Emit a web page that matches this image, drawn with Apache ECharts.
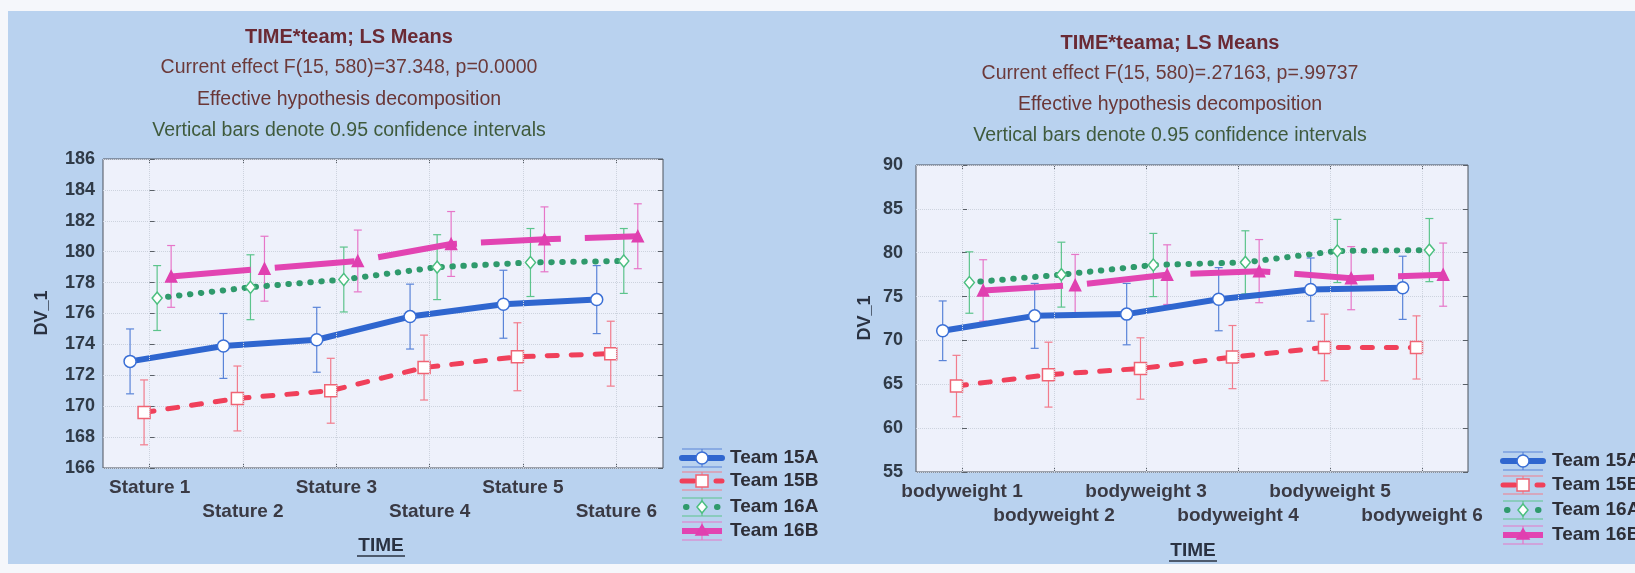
<!DOCTYPE html>
<html>
<head>
<meta charset="utf-8">
<script src="https://cdn.jsdelivr.net/npm/echarts@6/dist/echarts.min.js"></script>
<style>
  html, body { margin: 0; padding: 0; background: #f5f7fb; }
  #chart { width: 1635px; height: 573px; }
</style>
</head>
<body>
<div id="chart"></div>
<script>
// ---- data ----------------------------------------------------------------
const statureLabels = ['Stature 1', 'Stature 2', 'Stature 3', 'Stature 4', 'Stature 5', 'Stature 6'];
const weightLabels = ['bodyweight 1', 'bodyweight 2', 'bodyweight 3', 'bodyweight 4', 'bodyweight 5', 'bodyweight 6'];
const teamNames = ['Team 15A', 'Team 15B', 'Team 16A', 'Team 16B'];

// LS means of stature (cm) per team
const stature15A = [172.9, 173.9, 174.3, 175.8, 176.6, 176.9];
const stature15B = [169.6, 170.5, 171.0, 172.5, 173.2, 173.4];
const stature16A = [177.0, 177.7, 178.2, 179.0, 179.3, 179.4];
const stature16B = [178.4, 178.9, 179.4, 180.5, 180.8, 181.0];
// half widths of the 0.95 confidence intervals
const statureCI15A = [2.1, 2.1, 2.1, 2.1, 2.2, 2.2];
const statureCI15B = [2.1, 2.1, 2.1, 2.1, 2.2, 2.1];
const statureCI16A = [2.1, 2.1, 2.1, 2.1, 2.2, 2.1];
const statureCI16B = [2.0, 2.1, 2.0, 2.1, 2.1, 2.1];

// LS means of body weight (kg) per team
const weight15A = [71.1, 72.8, 73.0, 74.7, 75.8, 76.0];
const weight15B = [64.8, 66.1, 66.8, 68.1, 69.2, 69.2];
const weight16A = [76.6, 77.5, 78.6, 78.9, 80.2, 80.3];
const weight16B = [75.7, 76.3, 77.5, 77.9, 77.1, 77.5];
const weightCI15A = [3.4, 3.7, 3.5, 3.6, 3.6, 3.6];
const weightCI15B = [3.5, 3.7, 3.5, 3.6, 3.8, 3.6];
const weightCI16A = [3.5, 3.7, 3.6, 3.6, 3.6, 3.6];
const weightCI16B = [3.5, 3.5, 3.4, 3.6, 3.6, 3.6];

// value axis scales
const statureAxis = { min: 166, max: 186, interval: 2 };
const weightAxis = { min: 55, max: 90, interval: 5 };

// ---- styles --------------------------------------------------------------
const FONT = "'Liberation Sans', Arial, sans-serif";
const teamStyles = [
  { shift: -0.21, line: '#2f66cf', bar: '#5a84d8', mark: '#3a6fd6', symbol: 'circle', size: 12, fill: '#ffffff', dash: 'solid', width: 6, cap: 'round' },
  { shift: -0.06, line: '#f0405a', bar: '#f27c8c', mark: '#f06474', symbol: 'rect', size: 12, fill: '#ffffff', dash: [10, 14], width: 5, cap: 'round' },
  { shift: 0.08, line: '#2f9a6c', bar: '#5cc48c', mark: '#4cbf80', symbol: 'diamond', size: [10, 12], fill: '#ffffff', dash: [0.5, 10.5], width: 6, cap: 'round' },
  { shift: 0.23, line: '#e244b2', bar: '#e676c8', mark: '#e040b0', symbol: 'triangle', size: 11, fill: '#e040b0', dash: [80, 24], width: 6, cap: 'butt' }
];

const panels = [
  {
    cats: statureLabels, means: [stature15A, stature15B, stature16A, stature16B],
    cis: [statureCI15A, statureCI15B, statureCI16A, statureCI16B], axis: statureAxis,
    grid: { left: 103, top: 159, width: 560, height: 309 }, yMargin: 8,
    titleX: 349, titleY: [37, 68, 100, 131],
    titles: ['TIME*team; LS Means', 'Current effect F(15, 580)=37.348, p=0.0000',
             'Effective hypothesis decomposition', 'Vertical bars denote 0.95 confidence intervals'],
    dvPos: [42, 313], timePos: [381, 546], legendX: 702, legendTextX: 730, legendY: [458, 481, 507, 531]
  },
  {
    cats: weightLabels, means: [weight15A, weight15B, weight16A, weight16B],
    cis: [weightCI15A, weightCI15B, weightCI16A, weightCI16B], axis: weightAxis,
    grid: { left: 916, top: 165, width: 552, height: 307 }, yMargin: 13,
    titleX: 1170, titleY: [43, 74, 105, 136],
    titles: ['TIME*teama; LS Means', 'Current effect F(15, 580)=.27163, p=.99737',
             'Effective hypothesis decomposition', 'Vertical bars denote 0.95 confidence intervals'],
    dvPos: [865, 318], timePos: [1193, 551], legendX: 1523, legendTextX: 1552, legendY: [461, 485, 510, 535]
  }
];

const titleColors = ['#6a2a34', '#6c3a3a', '#6a3636', '#3f5a3c'];

// ---- option building -------------------------------------------------------
const grids = [], xAxes = [], yAxes = [], series = [], graphics = [];

// white frame around the blue panel
graphics.push(
  { type: 'rect', shape: { x: 0, y: 0, width: 1635, height: 11 }, style: { fill: '#f5f7fb' }, silent: true },
  { type: 'rect', shape: { x: 0, y: 0, width: 8, height: 573 }, style: { fill: '#f5f7fb' }, silent: true },
  { type: 'rect', shape: { x: 0, y: 564, width: 1635, height: 9 }, style: { fill: '#f5f7fb' }, silent: true }
);

function errorBarItem(params, api) {
  const x = api.value(0);
  const top = api.coord([x, api.value(2)]);
  const bottom = api.coord([x, api.value(1)]);
  const cap = 4;
  const style = { stroke: api.visual('color'), lineWidth: 1.2 };
  return {
    type: 'group',
    children: [
      { type: 'line', shape: { x1: top[0], y1: top[1], x2: bottom[0], y2: bottom[1] }, style },
      { type: 'line', shape: { x1: top[0] - cap, y1: top[1], x2: top[0] + cap, y2: top[1] }, style },
      { type: 'line', shape: { x1: bottom[0] - cap, y1: bottom[1], x2: bottom[0] + cap, y2: bottom[1] }, style }
    ]
  };
}

panels.forEach((p, gi) => {
  grids.push(Object.assign({
    show: true, backgroundColor: '#eef1fb', borderColor: '#4c535c', borderWidth: 1,
    containLabel: false, outerBoundsMode: 'none'
  }, p.grid));

  const xBase = xAxes.length;
  const yBase = yAxes.length;

  // bottom category axis with staggered labels
  xAxes.push({
    type: 'category', gridIndex: gi, data: p.cats, position: 'bottom', boundaryGap: true,
    axisLine: { show: false },
    axisTick: { show: true, inside: true, alignWithLabel: true, length: 5, lineStyle: { color: '#5a6068' } },
    axisLabel: {
      interval: 0, margin: 8, color: '#3a3a44', fontFamily: FONT, fontWeight: 'bold', fontSize: 19,
      lineHeight: 24, formatter: (v, i) => (i % 2 ? '\n' + v : v)
    },
    splitLine: { show: false }
  });
  // top category axis carrying only ticks
  xAxes.push({
    type: 'category', gridIndex: gi, data: p.cats, position: 'top', boundaryGap: true,
    axisLine: { show: false },
    axisTick: { show: true, inside: true, alignWithLabel: true, length: 5, lineStyle: { color: '#5a6068' } },
    axisLabel: { show: false }, splitLine: { show: false }
  });
  // hidden value axis used to place the offset groups of each category
  xAxes.push({
    type: 'value', gridIndex: gi, min: -0.5, max: 5.5, show: false,
    splitLine: { show: false }
  });

  yAxes.push({
    type: 'value', gridIndex: gi, position: 'left',
    min: p.axis.min, max: p.axis.max, interval: p.axis.interval,
    axisLine: { show: false },
    axisTick: { show: true, inside: true, length: 5, lineStyle: { color: '#5a6068' } },
    axisLabel: { margin: p.yMargin, color: '#2f3a47', fontFamily: FONT, fontWeight: 'bold', fontSize: 18 },
    splitLine: { show: true, lineStyle: { color: '#cdd3de', type: 'dotted', width: 1 } }
  });
  yAxes.push({
    type: 'value', gridIndex: gi, position: 'right',
    min: p.axis.min, max: p.axis.max, interval: p.axis.interval,
    axisLine: { show: false },
    axisTick: { show: true, inside: true, length: 5, lineStyle: { color: '#5a6068' } },
    axisLabel: { show: false }, splitLine: { show: false }
  });

  // error bars
  teamNames.forEach((name, k) => {
    const st = teamStyles[k];
    const bars = p.means[k].map((m, i) => [i + st.shift, +(m - p.cis[k][i]).toFixed(2), +(m + p.cis[k][i]).toFixed(2)]);
    const s = {
      type: 'custom', name: name + ' CI', xAxisIndex: xBase + 2, yAxisIndex: yBase,
      renderItem: errorBarItem, itemStyle: { color: st.bar }, data: bars,
      encode: { x: 0, y: [1, 2] }, z: 2, silent: true, animation: false
    };
    if (k === 0) {
      s.markLine = {
        silent: true, symbol: 'none', label: { show: false }, animation: false,
        lineStyle: { color: '#cdd3de', type: 'dotted', width: 1 },
        data: p.cats.map((c, i) => ({ xAxis: i }))
      };
    }
    series.push(s);
  });

  // mean lines with markers
  teamNames.forEach((name, k) => {
    const st = teamStyles[k];
    series.push({
      type: 'line', name, xAxisIndex: xBase + 2, yAxisIndex: yBase,
      data: p.means[k].map((m, i) => [i + st.shift, m]),
      symbol: st.symbol, symbolSize: st.size, showAllSymbol: true,
      itemStyle: { color: st.fill, borderColor: st.mark, borderWidth: 1.5 },
      lineStyle: { color: st.line, width: st.width, type: st.dash, cap: st.cap },
      z: 3 + k, silent: true, animation: false
    });
  });

  // titles
  p.titles.forEach((t, li) => {
    graphics.push({
      type: 'text', x: p.titleX, y: p.titleY[li], silent: true,
      style: {
        text: t, fill: titleColors[li], align: 'center', verticalAlign: 'middle',
        font: (li === 0 ? 'bold 20px ' : '19.5px ') + FONT
      }
    });
  });

  // axis names
  graphics.push({
    type: 'text', x: p.dvPos[0], y: p.dvPos[1], rotation: Math.PI / 2, silent: true,
    style: { text: 'DV_1', fill: '#2a3242', align: 'center', verticalAlign: 'middle', font: 'bold 18px ' + FONT }
  });
  graphics.push({
    type: 'text', x: p.timePos[0], y: p.timePos[1], silent: true,
    style: { text: 'TIME', fill: '#2a3242', align: 'center', verticalAlign: 'middle', font: 'bold 19px ' + FONT }
  });
  graphics.push({
    type: 'line', silent: true,
    shape: { x1: p.timePos[0] - 24, y1: p.timePos[1] + 10, x2: p.timePos[0] + 24, y2: p.timePos[1] + 10 },
    style: { stroke: '#2a3242', lineWidth: 1.5 }
  });

  // legend glyphs
  teamNames.forEach((name, k) => {
    const st = teamStyles[k];
    const cx = p.legendX, cy = p.legendY[k], hw = 20, eh = 9;
    const thin = { stroke: st.bar, lineWidth: 1.2 };
    graphics.push(
      { type: 'line', silent: true, shape: { x1: cx - hw, y1: cy - eh, x2: cx + hw, y2: cy - eh }, style: thin },
      { type: 'line', silent: true, shape: { x1: cx - hw, y1: cy + eh, x2: cx + hw, y2: cy + eh }, style: thin },
      { type: 'line', silent: true, shape: { x1: cx, y1: cy - eh, x2: cx, y2: cy + eh }, style: thin },
      {
        type: 'line', silent: true, shape: { x1: cx - hw, y1: cy, x2: cx + hw, y2: cy },
        style: {
          stroke: st.line, lineWidth: st.width, lineCap: st.cap,
          lineDash: k === 1 ? [12, 22] : (k === 2 ? [0.5, 15] : null), lineDashOffset: k === 1 ? 0 : (k === 2 ? -4 : 0)
        }
      }
    );
    const ms = { fill: st.fill, stroke: st.mark, lineWidth: 1.5 };
    if (k === 0) graphics.push({ type: 'circle', silent: true, shape: { cx, cy, r: 6 }, style: ms });
    if (k === 1) graphics.push({ type: 'rect', silent: true, shape: { x: cx - 6, y: cy - 6, width: 12, height: 12 }, style: ms });
    if (k === 2) graphics.push({ type: 'polygon', silent: true, shape: { points: [[cx, cy - 6], [cx + 5, cy], [cx, cy + 6], [cx - 5, cy]] }, style: ms });
    if (k === 3) graphics.push({ type: 'polygon', silent: true, shape: { points: [[cx, cy - 6], [cx + 6, cy + 4], [cx - 6, cy + 4]] }, style: ms });
    graphics.push({
      type: 'text', x: p.legendTextX, y: cy, silent: true,
      style: { text: name, fill: '#2e2f38', align: 'left', verticalAlign: 'middle', font: 'bold 19px ' + FONT }
    });
  });
});

const chart = echarts.init(document.getElementById('chart'), null, { renderer: 'canvas' });
chart.setOption({
  backgroundColor: '#b9d2ef',
  animation: false,
  grid: grids,
  xAxis: xAxes,
  yAxis: yAxes,
  series,
  graphic: { elements: graphics }
});
</script>
</body>
</html>
